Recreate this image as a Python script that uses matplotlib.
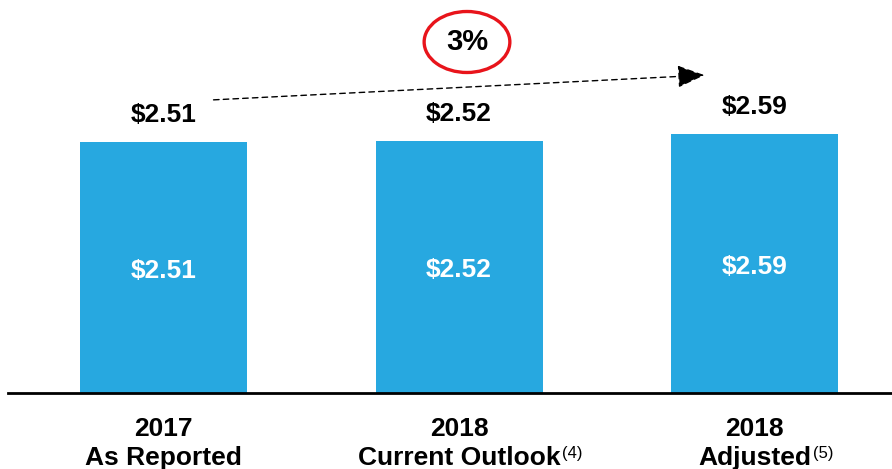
import matplotlib.pyplot as plt
from matplotlib.patches import Ellipse

# данные
years = ['2017', '2018', '2018']
names = ['As Reported', 'Current Outlook', 'Adjusted']
notes = ['', '(4)', '(5)']
eps = [2.51, 2.52, 2.59]
growth = '3%'

BLUE = '#27A8E0'
FONT = 'Liberation Sans'

fig = plt.figure(figsize=(8.92, 4.69), dpi=100)
ax = fig.add_axes([8 / 892, 76 / 469, 884 / 892, 393 / 469])
ax.set_xlim(-0.526, 2.465)
ax.set_ylim(0, 3.93)
ax.axis('off')

x = list(range(len(eps)))
ax.bar(x, eps, width=0.565, color=BLUE, zorder=2)

# базовая линия
ax.axhline(0, color='black', linewidth=2, zorder=3, clip_on=False)

for i, v in enumerate(eps):
    label = '${:.2f}'.format(v)
    ax.text(i, v + 0.27, label, ha='center', va='center', fontsize=19,
            fontweight='bold', family=FONT, color='black')
    ax.text(i, v / 2 - 0.03, label, ha='center', va='center', fontsize=19,
            fontweight='bold', family=FONT, color='white', zorder=4)

# подписи категорий
fig.canvas.draw()
renderer = fig.canvas.get_renderer()
for i in x:
    ax.text(i, -0.36, years[i], ha='center', va='center', fontsize=19,
            fontweight='bold', family=FONT, clip_on=False)
    t = ax.text(i, -0.645, names[i], ha='center', va='center', fontsize=19,
                fontweight='bold', family=FONT, clip_on=False)
    if notes[i]:
        bb = t.get_window_extent(renderer=renderer)
        xr = ax.transData.inverted().transform((bb.x1 + 2, bb.y1))[0]
        ax.text(xr, -0.6, notes[i], ha='left', va='center', fontsize=12,
                family=FONT, clip_on=False)

# пунктирная стрелка роста
ax.annotate('', xy=(len(eps) - 1 - 0.16, eps[-1] + 0.59),
            xytext=(0.16, eps[0] + 0.42),
            arrowprops=dict(arrowstyle='-|>,head_length=0.85,head_width=0.35',
                            linestyle=(0, (4, 3)), color='black',
                            linewidth=1, mutation_scale=20))

# кружок с процентом
ax.add_patch(Ellipse((1.027, 3.51), 0.29, 0.61, fill=False, edgecolor='#E8141B',
                     linewidth=2.4, clip_on=False))
ax.text(1.027, 3.51, growth, ha='center', va='center', fontsize=21,
        fontweight='bold', family=FONT)

fig.savefig('out.png', dpi=100)
